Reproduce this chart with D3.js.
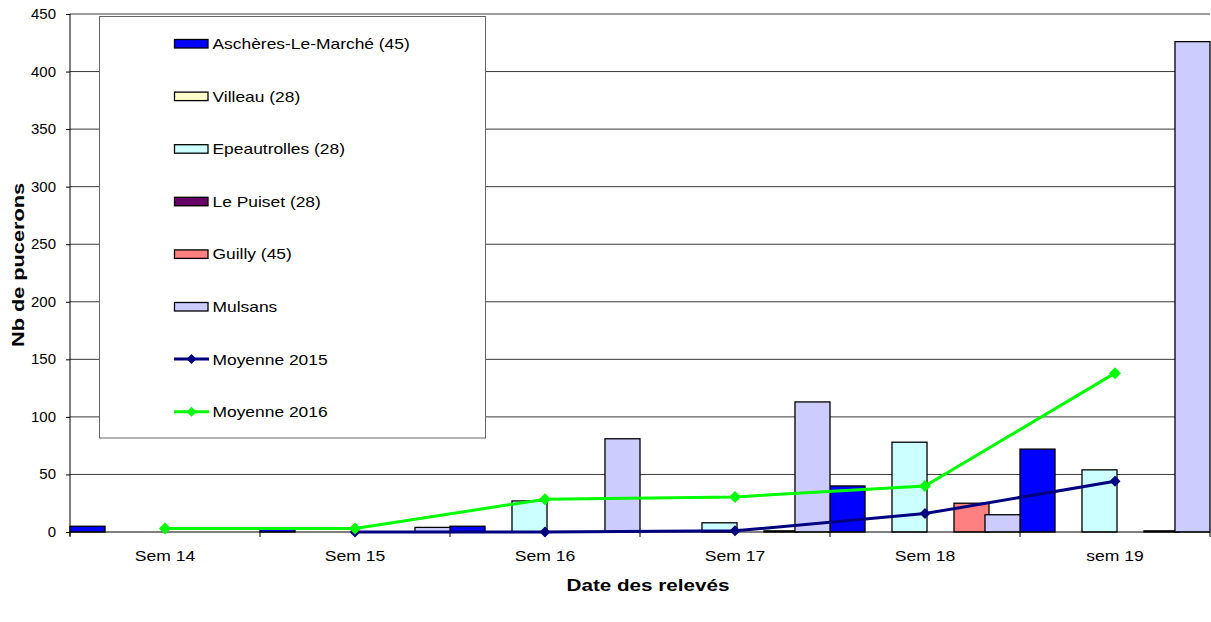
<!DOCTYPE html>
<html>
<head>
<meta charset="utf-8">
<script src="https://cdn.jsdelivr.net/npm/d3@7"></script>
<style>
  body { margin: 0; background: #fff; }
  text { font-family: Arial, "Liberation Sans", sans-serif; fill: #000; }
</style>
</head>
<body>
<svg id="chart" width="1211" height="622"></svg>
<script>
const weeks = ['Sem 14', 'Sem 15', 'Sem 16', 'Sem 17', 'Sem 18', 'sem 19'];
const seriesNames = ['Aschères-Le-Marché (45)', 'Villeau (28)', 'Epeautrolles (28)', 'Le Puiset (28)', 'Guilly (45)', 'Mulsans'];
const seriesColors = ['#0000FF', '#FFFFCC', '#CCFFFF', '#660066', '#FF8080', '#CCCCFF'];

// one array per site, one value per week (null = no bar)
const aschères = [5, 3.5, 5, null, 40, 72];
const villeau = [null, null, null, null, null, null];
const epeautrolles = [null, null, 27, 8, 78, 54];
const lePuiset = [null, null, null, null, null, null];
const guilly = [null, null, null, 1, 25, 1];
const mulsans = [null, 4, 81, 113, 15, 426];
const barSeries = [aschères, villeau, epeautrolles, lePuiset, guilly, mulsans];

const moyenne2015 = [null, 0, 0, 1, 16, 44];
const moyenne2016 = [3, 3, 28.5, 30.5, 40, 138];
const lineNames = ['Moyenne 2015', 'Moyenne 2016'];
const lineColors = ['#000080', '#00FF00'];

const yTicks = [0, 50, 100, 150, 200, 250, 300, 350, 400, 450];

const svg = d3.select('#chart');
const plotL = 70, plotR = 1210, plotT = 14, plotB = 532;

// the original picture is stretched sideways, so widen the text a bit
function stretch(sel, k) {
  sel.each(function() {
    const w = this.getComputedTextLength();
    d3.select(this).attr('textLength', w * k).attr('lengthAdjust', 'spacingAndGlyphs');
  });
}

const x = d3.scaleBand().domain(weeks).range([plotL, plotR]).padding(0);
// bars slightly overlap, like the excel original
const xInner = d3.scaleBand().domain(d3.range(6)).range([0, x.bandwidth()]).paddingInner(-0.13);
const y = d3.scaleLinear().domain([0, 450]).range([plotB, plotT]);

// grid
svg.append('g').selectAll('line').data(yTicks.filter(d => d > 0)).join('line')
  .attr('x1', plotL).attr('x2', plotR)
  .attr('y1', d => y(d)).attr('y2', d => y(d))
  .attr('stroke', '#3a3a3a').attr('stroke-width', 1);

// bars
barSeries.forEach((vals, si) => {
  svg.append('g').selectAll('rect')
    .data(vals.map((v, i) => ({ v, w: weeks[i] })).filter(d => d.v != null))
    .join('rect')
    .attr('x', d => x(d.w) + xInner(si))
    .attr('width', xInner.bandwidth())
    .attr('y', d => y(d.v))
    .attr('height', d => y(0) - y(d.v))
    .attr('fill', seriesColors[si])
    .attr('stroke', '#000').attr('stroke-width', 1.3);
});

// axes
const yAxis = svg.append('g').attr('transform', `translate(${plotL},0)`)
  .call(d3.axisLeft(y).tickValues(yTicks).tickSize(4).tickPadding(10));
yAxis.select('.domain').remove();
yAxis.selectAll('text').style('font-size', '14px').call(stretch, 1.07);
svg.append('line').attr('x1', plotL).attr('x2', plotL).attr('y1', plotT).attr('y2', plotB + 4).attr('stroke', '#000');

svg.append('line').attr('x1', plotL).attr('x2', plotR).attr('y1', plotB).attr('y2', plotB).attr('stroke', '#000');
svg.append('g').selectAll('line').data(d3.range(weeks.length + 1)).join('line')
  .attr('x1', i => plotL + i * x.step()).attr('x2', i => plotL + i * x.step())
  .attr('y1', plotB).attr('y2', plotB + 5).attr('stroke', '#000');
svg.append('g').selectAll('text').data(weeks).join('text')
  .attr('x', d => x(d) + x.bandwidth() / 2).attr('y', 561)
  .attr('text-anchor', 'middle').style('font-size', '15px')
  .text(d => d)
  .call(stretch, 1.17);

// lines
const diamond = r => `M0,${-r}L${r},0L0,${r}L${-r},0Z`;
[moyenne2015, moyenne2016].forEach((vals, li) => {
  const pts = vals.map((v, i) => ({ v, w: weeks[i] })).filter(d => d.v != null);
  const line = d3.line().x(d => x(d.w) + x.bandwidth() / 2).y(d => y(d.v));
  svg.append('path').datum(pts).attr('d', line)
    .attr('fill', 'none').attr('stroke', lineColors[li]).attr('stroke-width', 3);
  svg.append('g').selectAll('path').data(pts).join('path')
    .attr('d', diamond(li ? 6 : 5.5))
    .attr('transform', d => `translate(${x(d.w) + x.bandwidth() / 2},${y(d.v)})`)
    .attr('fill', lineColors[li]);
});

// axis titles
svg.append('text').attr('transform', 'translate(24,265) rotate(-90)')
  .attr('text-anchor', 'middle').style('font-size', '16px').style('font-weight', 'bold')
  .text('Nb de pucerons')
  .attr('textLength', 164).attr('lengthAdjust', 'spacingAndGlyphs');
svg.append('text').attr('x', 648).attr('y', 591)
  .attr('text-anchor', 'middle').style('font-size', '17px').style('font-weight', 'bold')
  .text('Date des relevés')
  .attr('textLength', 163).attr('lengthAdjust', 'spacingAndGlyphs');

// legend
const legend = svg.append('g');
legend.append('rect').attr('x', 99.5).attr('y', 16.5).attr('width', 386).attr('height', 421.5)
  .attr('fill', '#fff').attr('stroke', '#666');
const rowY = i => 43.5 + i * 52.6;
seriesNames.forEach((n, i) => {
  legend.append('rect').attr('x', 174.5).attr('y', rowY(i) - 4).attr('width', 33.5).attr('height', 8.5)
    .attr('fill', seriesColors[i]).attr('stroke', '#000').attr('stroke-width', 1.3);
  legend.append('text').attr('x', 212.5).attr('y', rowY(i) + 5.5).style('font-size', '15px').text(n)
    .call(stretch, 1.16);
});
lineNames.forEach((n, j) => {
  const i = seriesNames.length + j;
  legend.append('line').attr('x1', 174).attr('x2', 209).attr('y1', rowY(i)).attr('y2', rowY(i))
    .attr('stroke', lineColors[j]).attr('stroke-width', 3);
  legend.append('path').attr('d', diamond(5)).attr('transform', `translate(191.5,${rowY(i)})`)
    .attr('fill', lineColors[j]);
  legend.append('text').attr('x', 212.5).attr('y', rowY(i) + 5.5).style('font-size', '15px').text(n)
    .call(stretch, 1.16);
});
</script>
</body>
</html>
